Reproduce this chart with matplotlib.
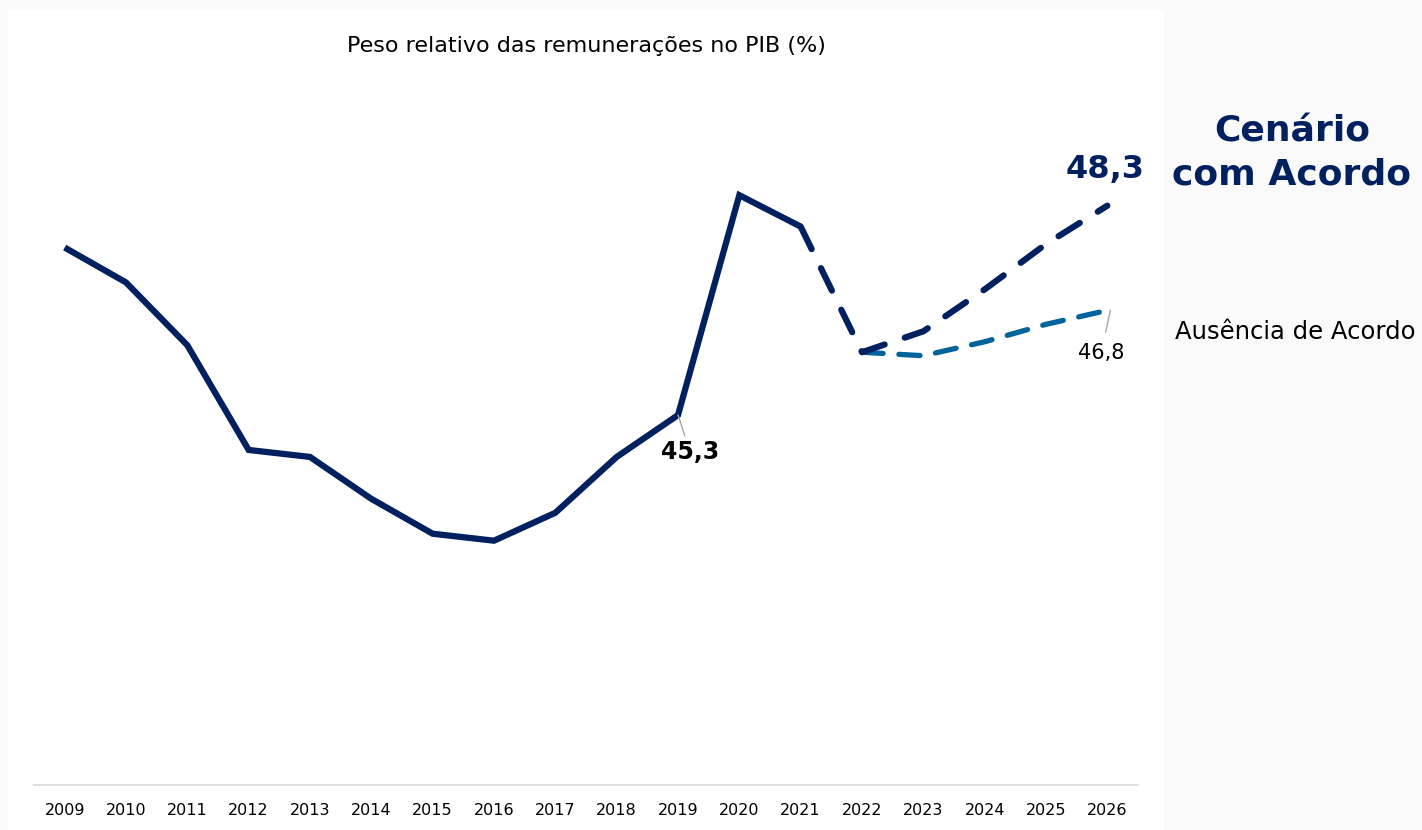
import matplotlib
matplotlib.use("Agg")
import matplotlib.pyplot as plt
from matplotlib.patches import Rectangle

years = [str(y) for y in range(2009, 2027)]
historico = [47.7, 47.2, 46.3, 44.8, 44.7, 44.1, 43.6, 43.5, 43.9, 44.7, 45.3, 48.45, 48.0]
com_acordo_years = ["2021", "2022", "2023", "2024", "2025", "2026"]
com_acordo = [48.0, 46.2, 46.5, 47.1, 47.75, 48.3]
sem_acordo_years = ["2022", "2023", "2024", "2025", "2026"]
sem_acordo = [46.2, 46.15, 46.35, 46.6, 46.8]

title = "Peso relativo das remunerações no PIB (%)"
label_com = "Cenário\ncom Acordo"
label_sem = "Ausência de Acordo"

navy = "#002060"
blue = "#00639c"

W, H = 1422, 830
fig = plt.figure(figsize=(W / 100, H / 100), dpi=100)
fig.patch.set_facecolor("#fafafa")
fig.add_artist(Rectangle((8 / W, 0), (1164 - 8) / W, (830 - 10) / H,
                         transform=fig.transFigure, facecolor="white",
                         edgecolor="none", zorder=0))

ax = fig.add_axes([34 / W, (H - 785) / H, (1138 - 34) / W, 698 / H])
ax.set_facecolor("none")
xi = {y: i for i, y in enumerate(years)}

ax.plot([xi[y] for y in years[:len(historico)]], historico, color=navy, lw=4.5,
        solid_joinstyle="miter", solid_capstyle="butt", zorder=3)
ax.plot([xi[y] for y in sem_acordo_years], sem_acordo, color=blue, lw=3.8,
        dashes=(4.0, 3.0), dash_capstyle="round", zorder=2)
ax.plot([xi[y] for y in com_acordo_years], com_acordo, color=navy, lw=4.5,
        dashes=(4.0, 3.4), dash_capstyle="round", zorder=3)

ax.set_xlim(-0.5, len(years) - 0.5)
ax.set_ylim(40, 50)
ax.set_xticks(range(len(years)))
ax.set_xticklabels(years, fontsize=11.5)
ax.tick_params(axis="x", length=0, pad=13)
ax.set_yticks([])
for s in ["top", "right", "left"]:
    ax.spines[s].set_visible(False)
ax.spines["bottom"].set_color("#d9d9d9")
ax.spines["bottom"].set_linewidth(1.2)

# annotations
i19 = xi["2019"]
ax.annotate("45,3", xy=(i19, historico[i19]), xytext=(i19 + 0.2, 45.3 - 0.53),
            ha="center", va="center", fontsize=17, fontweight="bold", color="black",
            arrowprops=dict(arrowstyle="-", color="#a6a6a6", lw=1,
                            shrinkA=1, shrinkB=0), zorder=5)
i26 = xi["2026"]
ax.text(i26 - 0.03, com_acordo[-1] + 0.52, "48,3", ha="center", va="center",
        fontsize=23, fontweight="bold", color=navy)
ax.annotate("46,8", xy=(i26 + 0.05, sem_acordo[-1]), xytext=(i26 - 0.1, 46.8 - 0.61),
            ha="center", va="center", fontsize=15, color="black",
            arrowprops=dict(arrowstyle="-", color="#a6a6a6", lw=1,
                            shrinkA=6, shrinkB=0), zorder=5)

fig.text(586 / W, 1 - 46 / H, title, ha="center", va="center", fontsize=16)
fig.text(1292 / W, 1 - 153 / H, label_com, ha="center", va="center",
         fontsize=26, fontweight="bold", color=navy, linespacing=1.3)
fig.text(1175 / W, 1 - 332 / H, label_sem, ha="left", va="center",
         fontsize=17.5, color="black")

fig.savefig("out.png", dpi=100, facecolor=fig.get_facecolor())
